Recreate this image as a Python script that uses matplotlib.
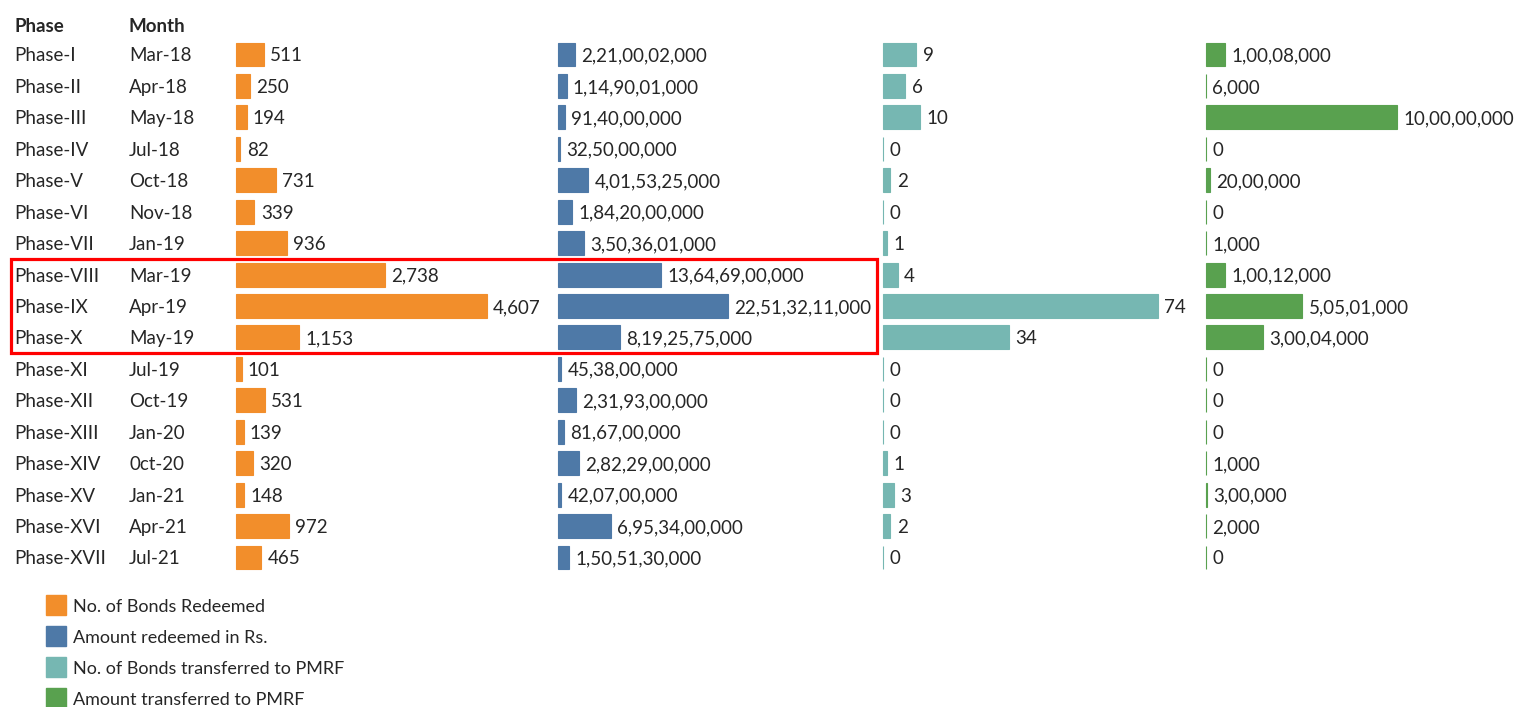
import numpy as np
import matplotlib.pyplot as plt
from matplotlib import transforms
from matplotlib.patches import Rectangle

plt.rcParams['font.family'] = ['Lato', 'DejaVu Sans']

# data
phases = ['Phase-I', 'Phase-II', 'Phase-III', 'Phase-IV', 'Phase-V', 'Phase-VI', 'Phase-VII',
          'Phase-VIII', 'Phase-IX', 'Phase-X', 'Phase-XI', 'Phase-XII', 'Phase-XIII', 'Phase-XIV',
          'Phase-XV', 'Phase-XVI', 'Phase-XVII']
months = ['Mar-18', 'Apr-18', 'May-18', 'Jul-18', 'Oct-18', 'Nov-18', 'Jan-19', 'Mar-19', 'Apr-19',
          'May-19', 'Jul-19', 'Oct-19', 'Jan-20', '0ct-20', 'Jan-21', 'Apr-21', 'Jul-21']
bonds_redeemed = [511, 250, 194, 82, 731, 339, 936, 2738, 4607, 1153, 101, 531, 139, 320, 148, 972, 465]
amount_redeemed = [2210002000, 1149001000, 914000000, 325000000, 4015325000, 1842000000, 3503601000,
                   13646900000, 22513211000, 8192575000, 453800000, 2319300000, 816700000, 2822900000,
                   420700000, 6953400000, 1505130000]
bonds_pmrf = [9, 6, 10, 0, 2, 0, 1, 4, 74, 34, 0, 0, 0, 1, 3, 2, 0]
amount_pmrf = [10008000, 6000, 100000000, 0, 2000000, 0, 1000, 10012000, 50501000, 30004000,
               0, 0, 0, 1000, 300000, 2000, 0]
legend_labels = ['No. of Bonds Redeemed', 'Amount redeemed in Rs.',
                 'No. of Bonds transferred to PMRF', 'Amount transferred to PMRF']
colors = ['#F28E2B', '#4E79A7', '#76B7B2', '#59A14F']


def indian(n):
    s = str(int(n))
    if len(s) <= 3:
        return s
    head, tail = s[:-3], s[-3:]
    parts = []
    while len(head) > 2:
        parts.insert(0, head[-2:])
        head = head[:-2]
    if head:
        parts.insert(0, head)
    return ','.join(parts) + ',' + tail


W, H = 1515, 707
fig = plt.figure(figsize=(W / 100, H / 100), dpi=100)
txt = '#262626'
fs = 13.5
drop = -5.0  # baseline offset (points) so caps sit centred on the bar

n = len(phases)
y_top, y_bot = 54.5, 557.5
step = (y_bot - y_top) / (n - 1)
ax_top = y_top - step / 2
ax_bot = y_bot + step / 2

# column start pixel, pixel length of the longest bar
cols = [(236, 251), (558, 170), (883, 275), (1206, 191)]
series = [bonds_redeemed, amount_redeemed, bonds_pmrf, amount_pmrf]

axes = []
for (x0, length), vals, c in zip(cols, series, colors):
    ax = fig.add_axes([x0 / W, 1 - ax_bot / H, length / W, (ax_bot - ax_top) / H])
    rows = np.arange(n)
    ax.barh(rows, vals, height=0.76, color=c, edgecolor=c, linewidth=0.8, clip_on=False)
    ax.set_xlim(0, max(vals))
    ax.set_ylim(n - 0.5, -0.5)
    ax.axis('off')
    for r, v in zip(rows, vals):
        ax.annotate(indian(v), (v, r), xytext=(4.5, drop), textcoords='offset points',
                    va='baseline', ha='left', fontsize=fs, color=txt, annotation_clip=False)
    axes.append(ax)

ax0 = axes[0]
tr = transforms.blended_transform_factory(fig.transFigure, ax0.transData)
for r, (p, m) in enumerate(zip(phases, months)):
    ax0.annotate(p, (14 / W, r), xycoords=tr, xytext=(0, drop), textcoords='offset points',
                 va='baseline', ha='left', fontsize=fs, color=txt, annotation_clip=False)
    ax0.annotate(m, (129 / W, r), xycoords=tr, xytext=(0, drop), textcoords='offset points',
                 va='baseline', ha='left', fontsize=fs, color=txt, annotation_clip=False)

fig.text(14 / W, 1 - 32 / H, 'Phase', fontsize=fs, fontweight='bold', color=txt, va='baseline')
fig.text(129 / W, 1 - 32 / H, 'Month', fontsize=fs, fontweight='bold', color=txt, va='baseline')

# red highlight box round Phase-VIII to Phase-X
ax0.add_patch(Rectangle((11 / W, 9.5), 866 / W, -3.0, transform=tr, fill=False,
                        edgecolor='#FF0000', linewidth=2.3, clip_on=False))

# legend
for i, (lab, c) in enumerate(zip(legend_labels, colors)):
    yc = 605 + i * 31
    fig.patches.append(Rectangle((46 / W, 1 - (yc + 10) / H), 20 / W, 20 / H,
                                 transform=fig.transFigure, color=c))
    fig.text(73 / W, 1 - (yc + 7) / H, lab, fontsize=fs - 0.5, color=txt, va='baseline', ha='left')

plt.savefig('out.png', dpi=100)
